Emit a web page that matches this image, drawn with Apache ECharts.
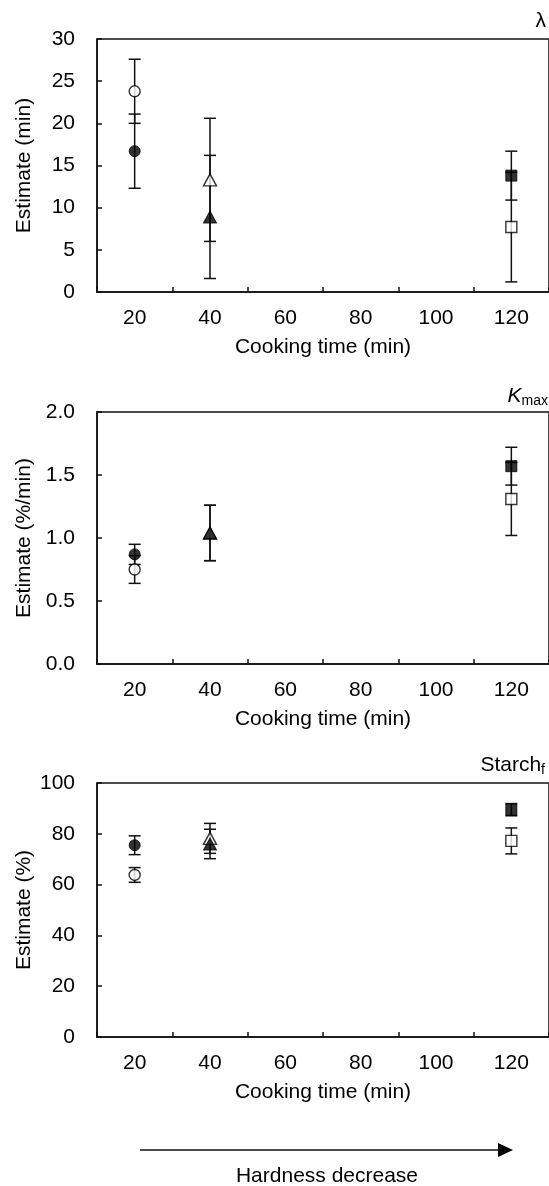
<!DOCTYPE html>
<html>
<head>
<meta charset="utf-8">
<script src="https://cdn.jsdelivr.net/npm/echarts@6/dist/echarts.min.js"></script>
<style>
  html, body { margin: 0; padding: 0; background: #fff; }
  #chart { width: 549px; height: 1186px; }
</style>
</head>
<body>
<div id="chart"></div>
<script>
// Cooking-time categories on the x axis
const cookingTimes = ['20', '40', '60', '80', '100', '120'];
// Times that were actually measured, and the marker shape used for each
const measuredTimes = ['20', '40', '120'];
const timeSymbols = ['circle', 'triangle', 'rect'];

// Lag time λ (min): mean and ± error
const lagFilledMean = [16.7, 8.9, 13.8];
const lagFilledErr  = [4.4, 7.3, 2.9];
const lagOpenMean   = [23.8, 13.3, 7.7];
const lagOpenErr    = [3.8, 7.3, 6.5];

// Maximum rate Kmax (%/min)
const kmaxFilledMean = [0.87, 1.04, 1.57];
const kmaxFilledErr  = [0.08, 0.22, 0.15];
const kmaxOpenMean   = [0.75, 1.04, 1.31];
const kmaxOpenErr    = [0.11, 0.22, 0.29];

// Final starch digestibility Starch_f (%)
const starchFilledMean = [75.5, 76.0, 89.5];
const starchFilledErr  = [3.7, 5.8, 2.4];
const starchOpenMean   = [63.8, 78.2, 77.2];
const starchOpenErr    = [2.9, 5.9, 5.1];

const INK = '#111';
const FONT = 'Liberation Sans, Arial, sans-serif';

const panels = [
  { top: 39,  height: 253, yMin: 0, yMax: 30,  yStep: 5,   yName: 'Estimate (min)',   decimals: 0,
    filledMean: lagFilledMean, filledErr: lagFilledErr, openMean: lagOpenMean, openErr: lagOpenErr },
  { top: 412, height: 252, yMin: 0, yMax: 2,   yStep: 0.5, yName: 'Estimate (%/min)', decimals: 1,
    filledMean: kmaxFilledMean, filledErr: kmaxFilledErr, openMean: kmaxOpenMean, openErr: kmaxOpenErr },
  { top: 783, height: 254, yMin: 0, yMax: 100, yStep: 20,  yName: 'Estimate (%)',     decimals: 0,
    filledMean: starchFilledMean, filledErr: starchFilledErr, openMean: starchOpenMean, openErr: starchOpenErr }
];

function errorRows(means, errs) {
  return measuredTimes.map((t, i) => [t, means[i], errs[i]]);
}
function markerRows(means, filled) {
  return measuredTimes.map((t, i) => ({
    value: [t, means[i]],
    symbol: timeSymbols[i],
    symbolSize: timeSymbols[i] === 'triangle' ? [13, 12] : 11,
    itemStyle: filled
      ? { color: '#000', borderColor: '#000', borderWidth: 1 }
      : { color: '#fff', borderColor: '#000', borderWidth: 1.4 }
  }));
}

function renderErrorBar(params, api) {
  const x = api.value(0);
  const mean = api.value(1);
  const err = api.value(2);
  const hi = api.coord([x, mean + err]);
  const lo = api.coord([x, mean - err]);
  const half = 6;
  const style = { stroke: INK, lineWidth: 1.5 };
  return {
    type: 'group',
    children: [
      { type: 'line', shape: { x1: hi[0], y1: hi[1], x2: lo[0], y2: lo[1] }, style },
      { type: 'line', shape: { x1: hi[0] - half, y1: hi[1], x2: hi[0] + half, y2: hi[1] }, style },
      { type: 'line', shape: { x1: lo[0] - half, y1: lo[1], x2: lo[0] + half, y2: lo[1] }, style }
    ]
  };
}

const grid = [], xAxis = [], yAxis = [], series = [];
panels.forEach((p, k) => {
  grid.push({
    left: 97, right: -4, top: p.top, height: p.height,
    show: true, borderColor: INK, borderWidth: 1.5
  });
  xAxis.push({
    gridIndex: k, type: 'category', data: cookingTimes, boundaryGap: true,
    name: 'Cooking time (min)', nameLocation: 'middle', nameGap: 45, nameMoveOverlap: false,
    nameTextStyle: { color: '#000', fontSize: 21, fontFamily: FONT },
    axisLine: { lineStyle: { color: INK, width: 1.5 } },
    axisTick: { show: true, inside: true, length: 5, lineStyle: { color: INK, width: 1.5 } },
    axisLabel: { color: '#000', fontSize: 21, fontFamily: FONT, margin: 16 },
    splitLine: { show: false }
  });
  yAxis.push({
    gridIndex: k, type: 'value', min: p.yMin, max: p.yMax, interval: p.yStep,
    name: p.yName, nameLocation: 'middle', nameGap: 62, nameRotate: 90, nameMoveOverlap: false,
    nameTextStyle: { color: '#000', fontSize: 21, fontFamily: FONT },
    axisLine: { show: true, lineStyle: { color: INK, width: 1.5 } },
    axisTick: { show: true, inside: true, length: 5, lineStyle: { color: INK, width: 1.5 } },
    axisLabel: { color: '#000', fontSize: 21, fontFamily: FONT, margin: 22,
      formatter: v => v.toFixed(p.decimals) },
    splitLine: { show: false }
  });
  series.push(
    { type: 'custom', xAxisIndex: k, yAxisIndex: k, z: 2,
      data: errorRows(p.openMean, p.openErr), encode: { x: 0, y: 1 }, renderItem: renderErrorBar },
    { type: 'custom', xAxisIndex: k, yAxisIndex: k, z: 2,
      data: errorRows(p.filledMean, p.filledErr), encode: { x: 0, y: 1 }, renderItem: renderErrorBar },
    { type: 'scatter', xAxisIndex: k, yAxisIndex: k, z: 3, data: markerRows(p.openMean, false) },
    { type: 'scatter', xAxisIndex: k, yAxisIndex: k, z: 4, data: markerRows(p.filledMean, true) }
  );
});

const titleStyle = {
  fontFamily: FONT, color: '#000', fontWeight: 'normal', fontSize: 21,
  rich: {
    m: { fontFamily: FONT, fontSize: 21, color: '#000' },
    i: { fontFamily: FONT, fontSize: 21, fontStyle: 'italic', color: '#000' },
    s: { fontFamily: FONT, fontSize: 14, color: '#000', padding: [10, 0, 0, 0] }
  }
};

const chart = echarts.init(document.getElementById('chart'), null, { renderer: 'canvas' });
chart.setOption({
  animation: false,
  backgroundColor: '#fff',
  title: [
    { text: 'λ', right: -2, top: 6, textStyle: titleStyle },
    { text: '{i|K}{s|max}', right: -4, top: 379, textStyle: titleStyle },
    { text: '{m|Starch}{s|f}', right: -1, top: 748, textStyle: titleStyle }
  ],
  grid, xAxis, yAxis, series,
  graphic: [
    { type: 'line', shape: { x1: 140, y1: 1150, x2: 500, y2: 1150 },
      style: { stroke: INK, lineWidth: 1.5 } },
    { type: 'polygon', shape: { points: [[498, 1143], [513, 1150], [498, 1157]] },
      style: { fill: '#000' } },
    { type: 'text', x: 327, y: 1176,
      style: { text: 'Hardness decrease', fill: '#000', fontSize: 21, fontFamily: FONT,
        align: 'center', verticalAlign: 'middle' } }
  ]
});
</script>
</body>
</html>
